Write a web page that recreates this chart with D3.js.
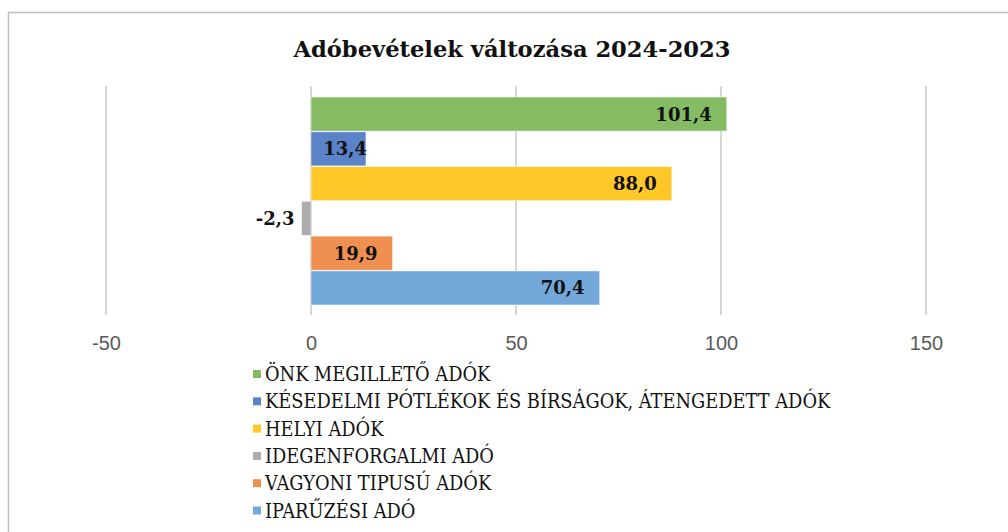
<!DOCTYPE html>
<html>
<head>
<meta charset="utf-8">
<script src="https://cdn.jsdelivr.net/npm/d3@7"></script>
<style>
  body { margin: 0; background: #fff; }
  svg { display: block; }
</style>
</head>
<body>
<div id="vis"></div>
<script>
const categories = [
  'ÖNK MEGILLETŐ ADÓK',
  'KÉSEDELMI PÓTLÉKOK ÉS BÍRSÁGOK, ÁTENGEDETT ADÓK',
  'HELYI ADÓK',
  'IDEGENFORGALMI ADÓ',
  'VAGYONI TIPUSÚ ADÓK',
  'IPARŰZÉSI ADÓ'
];
const values = [101.4, 13.4, 88.0, -2.3, 19.9, 70.4];
const colors = ['#84bb63', '#5b83c9', '#ffc828', '#adadad', '#ef8f50', '#73a8da'];
const ticks = [-50, 0, 50, 100, 150];
const title = 'Adóbevételek változása 2024-2023';

const width = 1008;
const height = 532;

const svg = d3.select('#vis')
  .append('svg')
    .attr('width', width)
    .attr('height', height);

// chart frame
svg.append('rect')
  .attr('x', 8.5)
  .attr('y', 12.5)
  .attr('width', width + 10)
  .attr('height', height + 10)
  .attr('fill', '#fff')
  .attr('stroke', '#bfbfbf')
  .attr('stroke-width', 1.5);

svg.append('text')
  .attr('x', 512)
  .attr('y', 57)
  .attr('text-anchor', 'middle')
  .attr('font-family', 'DejaVu Serif')
  .attr('font-weight', 'bold')
  .attr('font-size', 22.6)
  .attr('fill', '#111')
  .text(title);

const x = d3.scaleLinear()
  .domain([-50, 150])
  .range([106, 926]);

const y = d3.scaleBand()
  .domain(categories)
  .range([97, 305])
  .paddingInner(0.02);

const gridTop = 86;
const gridBottom = 315;

// gridlines
svg.append('g')
  .selectAll('line')
  .data(ticks)
  .join('line')
    .attr('x1', d => x(d))
    .attr('x2', d => x(d))
    .attr('y1', gridTop)
    .attr('y2', gridBottom)
    .attr('stroke', '#c9c9c9')
    .attr('stroke-width', 1.5);

// axis labels
const xAxis = d3.axisBottom(x)
  .tickValues(ticks)
  .tickFormat(d => String(d))
  .tickSize(0)
  .tickPadding(0);
const axisG = svg.append('g')
  .attr('transform', 'translate(0,' + 336 + ')')
  .call(xAxis);
axisG.select('.domain').remove();
axisG.selectAll('text')
  .attr('font-family', 'Liberation Sans')
  .attr('font-size', 20)
  .attr('fill', '#595959');

// bars
svg.append('g')
  .selectAll('rect')
  .data(values)
  .join('rect')
    .attr('x', d => x(Math.min(0, d)))
    .attr('y', (d, i) => y(categories[i]))
    .attr('width', d => Math.abs(x(d) - x(0)))
    .attr('height', y.bandwidth())
    .attr('fill', (d, i) => colors[i])
    .attr('stroke', '#fff')
    .attr('stroke-opacity', 0.5)
    .attr('stroke-width', 1);

const fmt = v => v.toFixed(1).replace('.', ',');

// data labels
svg.append('g')
  .selectAll('text')
  .data(values)
  .join('text')
    .attr('x', d => d < 0 ? x(d) - 7 : Math.max(x(d) - 15, x(0) + 56))
    .attr('y', (d, i) => y(categories[i]) + y.bandwidth() / 2)
    .attr('dy', '0.36em')
    .attr('text-anchor', 'end')
    .attr('font-family', 'DejaVu Serif')
    .attr('font-weight', 'bold')
    .attr('font-size', 18)
    .attr('fill', '#111')
    .text(d => fmt(d));

// legend
const legend = svg.append('g')
  .selectAll('g')
  .data(categories)
  .join('g')
    .attr('transform', (d, i) => 'translate(253,' + (374 + i * 27.3) + ')');

legend.append('rect')
  .attr('x', 0)
  .attr('y', -4)
  .attr('width', 8)
  .attr('height', 8)
  .attr('fill', (d, i) => colors[i]);

legend.append('text')
  .attr('x', 12)
  .attr('y', 0)
  .attr('dy', '0.36em')
  .attr('font-family', 'DejaVu Serif Condensed')
  .attr('font-stretch', 'condensed')
  .attr('font-size', 19.8)
  .attr('fill', '#111')
  .text(d => d);
</script>
</body>
</html>
